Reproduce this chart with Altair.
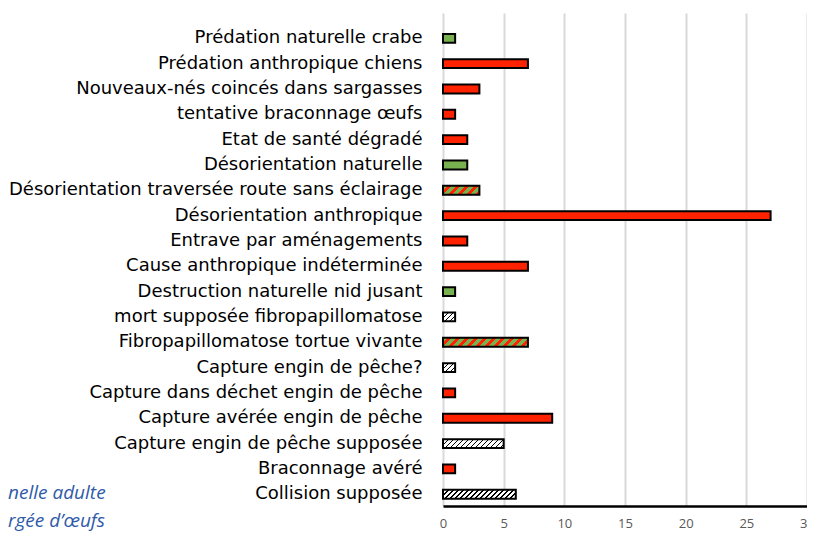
import altair as alt
import pandas as pd

# ---- data ----
causes = [
    "Prédation naturelle crabe",
    "Prédation anthropique chiens",
    "Nouveaux-nés coincés dans sargasses",
    "tentative braconnage œufs",
    "Etat de santé dégradé",
    "Désorientation naturelle",
    "Désorientation traversée route sans éclairage",
    "Désorientation anthropique",
    "Entrave par aménagements",
    "Cause anthropique indéterminée",
    "Destruction naturelle nid jusant",
    "mort supposée fibropapillomatose",
    "Fibropapillomatose tortue vivante",
    "Capture engin de pêche?",
    "Capture dans déchet engin de pêche",
    "Capture avérée engin de pêche ",
    "Capture engin de pêche supposée",
    "Braconnage avéré",
    "Collision supposée",
]
valeurs = [1, 7, 3, 1, 2, 2, 3, 27, 2, 7, 1, 1, 7, 1, 1, 9, 5, 1, 6]
motifs = ["vert", "rouge", "rouge", "rouge", "rouge", "vert", "rayure", "rouge",
          "rouge", "rouge", "vert", "hachure", "rayure", "hachure", "rouge",
          "rouge", "hachure", "rouge", "hachure"]
x_ticks = [0, 5, 10, 15, 20, 25, 30]
annotations = ["nelle adulte", "rgée d’œufs"]

# ---- styles ----
RED = "#ff2200"
GREEN = "#77b150"
PLOT_W = 364
PLOT_H = 493
X_MAX = 30
PAD_INNER = 0.65
PAD_OUTER = 0.557
ALIGN = 0.74
LABEL_FONT = "DejaVu Sans"
TICK_FONT = "Open Sans"

step_px = PLOT_H / (len(causes) - PAD_INNER + 2 * PAD_OUTER)
bar_px = step_px * (1 - PAD_INNER)
px_per_unit = PLOT_W / X_MAX

df = pd.DataFrame({"cause": causes, "valeur": valeurs, "motif": motifs})


def stripes(value, c1, c2, period, frac1):
    W = value * px_per_unit
    Hb = bar_px
    span = W + Hb
    a = span * W / (W * W + Hb * Hb)
    b = a * Hb / W
    n = span / period
    stops = []
    k = 0
    while k < n:
        t0 = min(k / n, 1)
        t1 = min((k + frac1) / n, 1)
        t2 = min((k + 1) / n, 1)
        stops += [
            alt.GradientStop(offset=t0, color=c1),
            alt.GradientStop(offset=t1, color=c1),
            alt.GradientStop(offset=t1, color=c2),
            alt.GradientStop(offset=t2, color=c2),
        ]
        k += 1
    return alt.LinearGradient(gradient="linear", stops=stops, x1=0, y1=0, x2=a, y2=b)


x_enc = alt.X(
    "valeur:Q",
    scale=alt.Scale(domain=[0, X_MAX], nice=False),
    axis=alt.Axis(values=x_ticks, title=None, grid=True, gridColor="#d9d9d9",
                  gridWidth=2, ticks=False, domainColor="#000000", domainWidth=2.5,
                  labelColor="#595959", labelFontSize=13, labelFont=TICK_FONT,
                  labelPadding=11, labelFlush=False),
)
y_enc = alt.Y(
    "cause:N",
    scale=alt.Scale(domain=causes, paddingInner=PAD_INNER, paddingOuter=PAD_OUTER,
                    align=ALIGN),
    axis=alt.Axis(title=None, ticks=False, domain=False, grid=False,
                  labelColor="#000000", labelFontSize=18, labelFont=LABEL_FONT,
                  labelPadding=21, labelLimit=0),
)

base = alt.Chart(df)

solid = base.transform_filter(
    "datum.motif == 'rouge' || datum.motif == 'vert'"
).mark_bar(stroke="#000000", strokeWidth=2).encode(
    x=x_enc,
    y=y_enc,
    fill=alt.Fill("motif:N", scale=alt.Scale(domain=["rouge", "vert"], range=[RED, GREEN]),
                  legend=None),
)

layers = [solid]
for c, v, m in zip(causes, valeurs, motifs):
    if m == "hachure":
        grad = stripes(v, "#000000", "#ffffff", 5.0, 0.3)
    elif m == "rayure":
        grad = stripes(v, GREEN, RED, 9.0, 0.5)
    else:
        continue
    layers.append(
        base.transform_filter(alt.datum.cause == c)
        .mark_bar(stroke="#000000", strokeWidth=2, fill=grad)
        .encode(x=x_enc, y=y_enc)
    )

ann_y = [480, 508]
for txt, yy in zip(annotations, ann_y):
    layers.append(
        alt.Chart(pd.DataFrame({"t": [txt]}))
        .mark_text(align="left", baseline="middle", font=TICK_FONT, fontSize=19,
                   fontStyle="italic", color="#2e5aa8")
        .encode(x=alt.value(-435), y=alt.value(yy), text="t:N")
    )

chart = alt.layer(*layers).properties(
    width=PLOT_W,
    height=PLOT_H,
    autosize=alt.AutoSizeParams(type="none"),
    padding={"left": 435, "top": 5, "right": 0, "bottom": 30},
).configure_view(stroke=None)

chart.save("out.html", embed_options={"renderer": "svg", "actions": False})
